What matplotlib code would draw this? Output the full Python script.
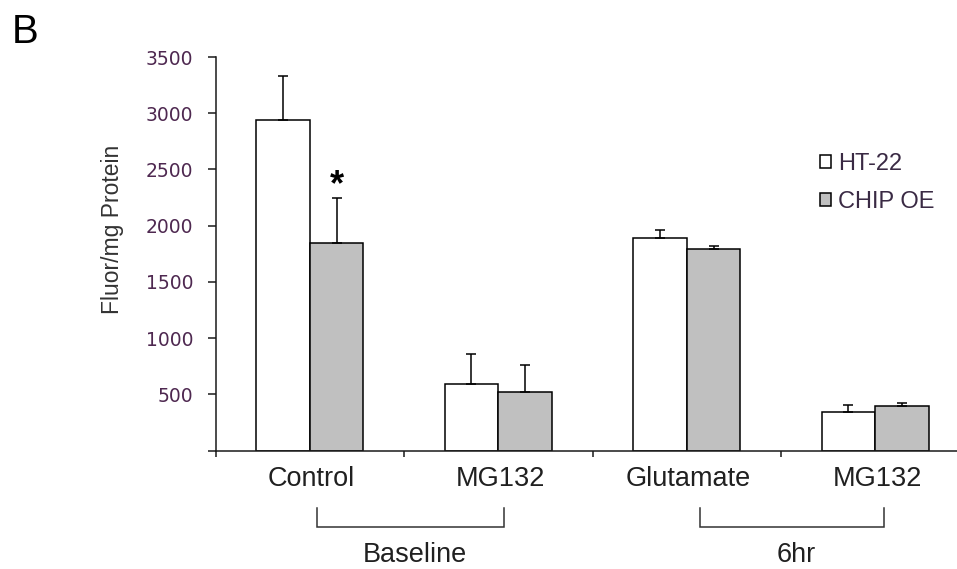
import matplotlib
matplotlib.use("Agg")
import matplotlib.pyplot as plt
import numpy as np

# ---- data ----
categories = ["Control", "MG132", "Glutamate", "MG132"]
series_names = ["HT-22", "CHIP OE"]
ht22 = [2942, 594, 1893, 340]
ht22_err = [392, 267, 68, 65]
chip = [1846, 523, 1795, 393]
chip_err = [403, 240, 27, 28]
yticks = [0, 500, 1000, 1500, 2000, 2500, 3000, 3500]
ytick_labels = ["", "500", "1000", "1500", "2000", "2500", "3000", "3500"]
groups = [("Baseline", 0, 1), ("6hr", 2, 3)]
ylabel = "Fluor/mg Protein"
panel = "B"

font = "Liberation Sans"

W, H = 957, 569
fig = plt.figure(figsize=(W / 100, H / 100), dpi=100)
x_left, x_right = 215.5, 969.5
y_bottom, y_top = 450.5, 57.0
ax = fig.add_axes([x_left / W, 1 - y_bottom / H, (x_right - x_left) / W, (y_bottom - y_top) / H])

x = np.arange(len(categories))
w = 0.285
ekw = dict(elinewidth=1.1, capthick=1.1, ecolor="black")
b1 = ax.bar(x - w / 2, ht22, w, color="white", edgecolor="black", linewidth=1.1,
            yerr=[np.zeros(len(ht22)), ht22_err], capsize=3.3, error_kw=ekw, label=series_names[0], zorder=2)
b2 = ax.bar(x + w / 2, chip, w, color="#c0c0c0", edgecolor="black", linewidth=1.1,
            yerr=[np.zeros(len(chip)), chip_err], capsize=3.3, error_kw=ekw, label=series_names[1], zorder=2)

ax.set_xlim(-0.5, 3.5)
ax.set_ylim(0, 3500)
for s in ["top", "right"]:
    ax.spines[s].set_visible(False)
for s in ["left", "bottom"]:
    ax.spines[s].set_linewidth(1.1)
    ax.spines[s].set_color("#1a1a1a")
    ax.spines[s].set_zorder(3)

ax.set_yticks(yticks)
ax.set_yticklabels(ytick_labels)
ax.tick_params(axis="y", direction="out", length=5.8, width=1.1, color="#1a1a1a",
               pad=10, labelsize=13.5, labelcolor="#4e2850")
for t in ax.get_yticklabels():
    t.set_fontfamily("DejaVu Sans")

ax.set_xticks(np.arange(-0.5, 3.0, 1.0))
ax.set_xticklabels([])
ax.tick_params(axis="x", direction="out", length=4.3, width=1.1, color="#1a1a1a")

xt = ax.get_xaxis_transform()
def ay(py):
    return (y_bottom - py) / (y_bottom - y_top)

for i, c in enumerate(categories):
    ax.text(i + 0.01, ay(485.7), c, transform=xt, ha="center", va="baseline",
            fontsize=19.5, family=font, color="#202020", clip_on=False)

# group brackets
offs = [(0.04, 0.03), (0.07, 0.045)]
for (name, a, b), (oa, ob) in zip(groups, offs):
    xa, xb = a + oa, b + ob
    ax.plot([xa, xa, xb, xb], [ay(508), ay(526.7), ay(526.7), ay(508)], transform=xt,
            color="#333333", lw=1.1, clip_on=False, solid_joinstyle="miter")
    ax.text((xa + xb) / 2 + 0.025, ay(567.5), name, transform=xt, ha="center", va="bottom",
            fontsize=19.5, family=font, color="#202020", clip_on=False)

# asterisk
ax.text(0 + w / 2, 2275, "*", ha="center", va="baseline", fontsize=26,
        family=font, fontweight="bold", color="black")

# y label
fig.text(113 / W, 1 - 229.5 / H, ylabel, rotation=90, ha="center", va="center",
         fontsize=16.5, family=font, color="#333333")

# panel letter
fig.text(12 / W, 1 - 42.7 / H, panel, ha="left", va="baseline",
         fontsize=29, family=font, color="black")

# legend
leg = ax.legend(handles=[b1, b2], labels=series_names, frameon=False,
                loc="upper left", bbox_to_anchor=(820 / W, 1 - 153 / H),
                bbox_transform=fig.transFigure, prop={"family": font, "size": 17},
                handlelength=0.48, handleheight=0.48, handletextpad=0.3, labelspacing=0.68,
                borderpad=0, borderaxespad=0)
for t in leg.get_texts():
    t.set_color("#3a2a44")

fig.savefig("out.png", dpi=100)
